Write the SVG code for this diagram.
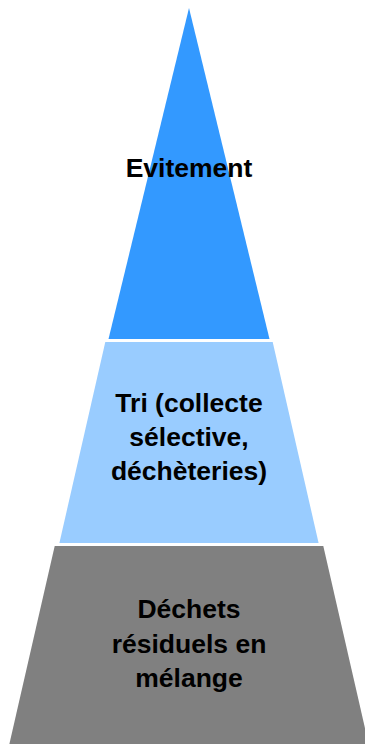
<svg xmlns="http://www.w3.org/2000/svg" width="365" height="744" viewBox="0 0 365 744">
<style>
.t{font-family:"Liberation Sans",Arial,sans-serif;font-weight:bold;font-size:26.5px;fill:#000;text-anchor:middle}
</style>
<rect width="365" height="744" fill="#fff"/>
<g id="evitement">
<polygon points="189,8 269.5,339 108.5,339" fill="#3399FF"/>
<text class="t" x="189" y="177">Evitement</text>
</g>
<g id="tri">
<polygon points="105.3,342 272.7,342 318.6,543 59.4,543" fill="#99CCFF"/>
<text class="t" x="189" y="412">Tri (collecte</text>
<text class="t" x="189" y="446">sélective,</text>
<text class="t" x="189" y="480">déchèteries)</text>
</g>
<g id="dechets">
<polygon points="54.7,546 323.3,546 370,750 8,750" fill="#808080"/>
<text class="t" x="189" y="618">Déchets</text>
<text class="t" x="189" y="653">résiduels en</text>
<text class="t" x="189" y="687">mélange</text>
</g>
<g id="connectors"></g>
</svg>
